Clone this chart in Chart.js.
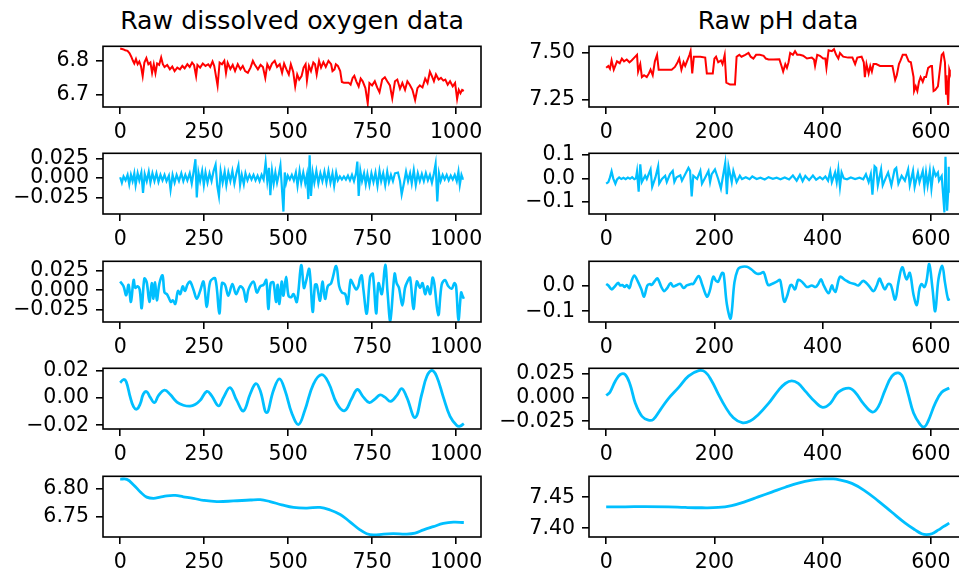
<!DOCTYPE html>
<html>
<head>
<meta charset="utf-8">
<script src="https://cdn.jsdelivr.net/npm/chart.js@4.4.1/dist/chart.umd.min.js"></script>
<style>
  html, body { margin: 0; padding: 0; background: #fff; overflow: hidden; }
  body { width: 959px; height: 574px; position: relative; }
  .panel { position: absolute; }
  .title { position: absolute; top: 9px; font-family: 'DejaVu Sans', sans-serif; font-size: 25.2px; line-height: 24.6px; color: #000; transform: translateX(-50%); white-space: nowrap; }
</style>
</head>
<body>
<div class="title" style="left:292px">Raw dissolved oxygen data</div>
<div class="title" style="left:778px">Raw pH data</div>

<script>
// --- Data: dissolved oxygen (left column) ---
const doRawX = [0,8,15,22,28,33,38,42,47,52,57,62,67,72,78,84,90,95,100,105,110,116,122,127,132,140,148,155,162,170,178,185,192,200,207,214,220,226,230,238,246,254,262,268,275,280,290,296,303,310,315,320,328,335,342,350,358,365,372,380,388,395,400,410,418,425,432,438,445,452,460,467,475,482,488,495,502,508,515,521,527,533,540,546,552,556,562,568,575,580,585,592,598,605,612,620,628,632,638,642,648,655,660,666,674,680,686,692,697,703,710,716,722,730,737,742,750,758,765,772,780,788,795,803,810,818,825,833,840,848,855,862,870,878,885,892,900,908,915,922,928,934,940,948,955,962,968,975,982,990,997,1003,1008,1013,1018,1023];
const doRawY = [6.836,6.834,6.831,6.829,6.822,6.812,6.800,6.792,6.805,6.790,6.798,6.784,6.755,6.795,6.808,6.790,6.795,6.765,6.790,6.764,6.792,6.788,6.810,6.790,6.782,6.788,6.775,6.783,6.770,6.780,6.775,6.785,6.778,6.790,6.782,6.795,6.787,6.755,6.788,6.780,6.792,6.785,6.790,6.782,6.798,6.785,6.727,6.795,6.790,6.800,6.764,6.794,6.776,6.788,6.770,6.790,6.775,6.785,6.770,6.765,6.780,6.800,6.790,6.775,6.788,6.782,6.750,6.790,6.776,6.792,6.800,6.782,6.790,6.765,6.792,6.775,6.760,6.790,6.768,6.725,6.760,6.745,6.755,6.780,6.790,6.742,6.785,6.770,6.795,6.790,6.760,6.800,6.780,6.796,6.782,6.800,6.790,6.770,6.775,6.790,6.785,6.770,6.738,6.736,6.736,6.736,6.730,6.750,6.756,6.740,6.725,6.748,6.740,6.720,6.675,6.735,6.728,6.740,6.722,6.708,6.745,6.752,6.740,6.728,6.690,6.740,6.745,6.718,6.735,6.715,6.740,6.730,6.715,6.685,6.720,6.728,6.722,6.748,6.735,6.768,6.755,6.740,6.760,6.745,6.750,6.742,6.745,6.730,6.740,6.725,6.735,6.688,6.715,6.705,6.715,6.712];

const doHfX = [0,5,10,16,22,27,32,37,42,46,52,57,63,68,73,79,85,90,96,102,108,114,120,126,132,138,145,150,156,162,168,175,182,188,194,200,207,213,219,224,228,233,238,244,249,254,260,266,272,278,284,289,294,299,305,311,316,322,328,334,340,346,352,357,362,368,373,379,385,391,397,403,409,415,421,427,433,438,443,447,452,457,462,467,472,477,481,486,490,494,499,505,511,517,523,528,534,539,545,551,556,560,564,568,573,578,584,590,596,602,608,614,620,626,632,637,643,648,654,660,666,672,678,684,690,696,702,706,710,715,720,726,731,736,742,748,754,760,766,772,777,783,789,795,800,806,812,818,827,833,838,845,851,857,863,868,874,880,886,892,898,904,910,916,922,928,934,939,944,949,954,960,966,972,978,984,990,996,1002,1007,1011,1016,1020,1023];
const doHfY = [0.001,-0.006,0.002,-0.003,0.004,-0.008,0.004,-0.004,0.006,-0.009,0.006,-0.003,0.007,-0.019,0.005,-0.004,0.008,-0.006,0.006,-0.004,0.006,-0.005,0.004,-0.003,0.004,-0.004,0.003,-0.015,0.004,-0.006,0.004,-0.004,0.006,-0.004,0.004,-0.003,0.006,-0.007,0.009,0.024,-0.025,0.007,-0.004,0.009,-0.009,0.007,-0.006,0.006,-0.004,0.009,0.017,-0.010,-0.023,0.009,-0.006,0.008,-0.009,0.007,-0.004,0.009,-0.007,0.006,0.016,-0.009,0.004,-0.008,0.006,-0.003,0.004,-0.002,0.004,-0.003,0.003,-0.004,0.004,-0.002,0.020,-0.004,0.013,-0.022,0.009,-0.007,0.007,-0.006,0.004,0.016,-0.010,-0.043,0.007,-0.006,0.003,-0.002,0.004,-0.003,0.007,-0.010,0.009,-0.006,0.007,-0.007,0.004,-0.027,0.029,-0.023,0.007,-0.006,0.009,-0.007,0.006,-0.004,0.008,-0.006,0.009,-0.006,0.006,-0.010,0.007,-0.003,0.002,-0.002,0.002,-0.002,0.003,-0.003,0.004,-0.004,0.006,0.021,-0.023,0.009,-0.004,0.006,-0.008,0.005,-0.009,0.006,-0.005,0.007,-0.010,0.009,-0.004,0.006,-0.009,0.008,-0.005,0.004,-0.004,0.006,0.007,-0.004,-0.021,-0.006,0.008,-0.004,0.006,-0.007,0.010,-0.009,0.006,-0.004,0.005,-0.004,0.006,-0.003,0.004,-0.006,0.006,0.018,-0.030,0.006,-0.004,0.004,-0.002,0.004,-0.003,0.003,-0.002,0.004,-0.004,0.008,-0.009,0.004,-0.001,-0.001];

const doMfX = [0,10,18,25,32,40,45,52,58,64,72,79,87,94,99,104,109,117,126,132,139,144,151,157,164,172,179,186,193,200,208,218,228,238,248,258,268,283,295,303,312,322,334,345,357,367,375,382,397,407,417,427,435,441,448,456,464,469,474,481,486,494,501,509,516,526,539,547,553,563,573,580,585,595,602,610,618,628,643,652,660,670,677,686,692,702,709,714,719,724,734,744,752,762,769,779,789,796,804,817,823,830,840,848,855,863,873,883,893,900,908,915,923,930,935,947,957,967,977,987,995,1000,1007,1015,1019,1023];
const doMfY = [0.011,0.005,-0.0065,0.007,-0.015,0.013,0.003,0.005,0.001,-0.023,0.015,0.010,-0.015,0.009,-0.011,0.010,-0.013,0.009,0.019,-0.003,-0.005,-0.009,-0.015,-0.013,-0.0175,-0.001,-0.005,0.005,-0.001,0.007,0.011,0.001,-0.011,-0.001,0.011,-0.0215,0.011,0.015,-0.0297,0.009,0.007,-0.007,0.008,-0.005,0.005,0.001,-0.0147,0.001,0.011,-0.003,0.005,0.007,0.013,-0.024,0.009,0.010,-0.015,0.007,-0.0175,0.011,-0.007,0.017,-0.007,-0.009,-0.005,-0.015,0.032,0.003,0.011,0.027,-0.0276,0.007,0.007,-0.0135,0.011,-0.011,0.005,0.009,0.031,0.005,-0.003,-0.005,-0.0175,0.013,0.009,0.001,0.005,0.015,0.019,0.001,-0.030,0.017,0.021,-0.0297,0.009,-0.005,0.0325,-0.003,-0.039,0.021,0.009,0.003,-0.0195,0.003,0.011,0.016,-0.024,0.011,0.003,0.009,-0.005,0.005,-0.005,0.016,0.009,-0.032,0.007,0.013,0.005,0.002,0.009,0.005,-0.038,-0.003,-0.007,-0.011];

const doLfX = [0,10,18,30,40,50,60,69,79,89,102,114,132,149,169,188,208,223,238,258,272,293,308,327,347,367,387,404,417,436,456,474,491,511,531,550,575,600,620,645,668,689,706,724,742,759,774,788,805,823,838,853,878,898,913,928,942,962,982,1002,1012,1023];
const doLfY = [0.0111,0.0134,0.0118,0.0005,-0.0066,-0.0082,-0.0042,0.0028,0.0045,0.0005,-0.0035,0.0016,0.0056,0.0024,-0.0031,-0.0054,-0.0061,-0.0049,-0.0019,0.0047,0.0016,-0.0059,0.0005,0.0075,-0.0019,-0.0096,0.0028,0.0104,0.0052,-0.0108,0.0052,0.0139,0.0052,-0.0113,-0.0195,-0.0089,0.0099,0.0169,0.0111,-0.0042,-0.0094,-0.0007,0.0061,0.0005,-0.0035,-0.0007,0.0021,0.0005,-0.0026,0.0016,0.0068,0.0005,-0.0144,0.0028,0.0158,0.0200,0.0158,0.0005,-0.0136,-0.0202,-0.0207,-0.0188];

const doTrendX = [0,20,40,60,79,99,119,139,164,188,218,248,288,337,387,417,446,481,516,556,595,625,655,684,714,734,754,784,813,853,878,903,932,962,992,1023];
const doTrendY = [6.8170,6.8165,6.8068,6.7943,6.7852,6.7830,6.7852,6.7875,6.7881,6.7858,6.7830,6.7795,6.7773,6.7784,6.7801,6.7807,6.7773,6.7716,6.7670,6.7659,6.7670,6.7625,6.7545,6.7415,6.7273,6.7205,6.7182,6.7199,6.7205,6.7199,6.7216,6.7273,6.7330,6.7386,6.7409,6.7403];

// --- Data: pH (right column) ---
const phRawX = [0,4,7,10,14,20,25,29,33,38,43,47,52,57,59,63,66,70,75,79,82,86,90,94,97,103,112,121,127,132,135,139,143,146,150,154,156,159,162,174,183,186,192,197,200,203,207,212,215,219,222,229,238,241,246,250,257,263,267,272,277,284,291,295,300,309,320,324,327,331,334,337,340,345,349,353,358,364,371,380,384,386,390,395,401,405,407,411,417,421,425,429,432,438,447,455,460,464,472,476,478,481,485,488,491,494,499,506,524,529,534,537,541,544,548,554,559,563,568,569,572,575,578,581,585,588,591,595,600,602,605,608,613,617,620,623,626,628,629,632,634,635];
const phRawY = [7.42,7.43,7.415,7.46,7.41,7.455,7.445,7.47,7.455,7.465,7.45,7.46,7.475,7.49,7.40,7.44,7.37,7.38,7.37,7.39,7.41,7.38,7.455,7.49,7.41,7.41,7.41,7.41,7.425,7.45,7.47,7.41,7.45,7.43,7.46,7.49,7.51,7.39,7.48,7.48,7.475,7.39,7.39,7.39,7.47,7.48,7.45,7.46,7.44,7.49,7.34,7.33,7.33,7.48,7.49,7.48,7.49,7.50,7.48,7.47,7.49,7.49,7.485,7.47,7.465,7.465,7.466,7.43,7.40,7.44,7.42,7.45,7.50,7.49,7.51,7.49,7.49,7.485,7.47,7.475,7.465,7.43,7.49,7.485,7.47,7.47,7.42,7.515,7.51,7.52,7.49,7.47,7.50,7.48,7.475,7.475,7.44,7.475,7.48,7.45,7.37,7.44,7.39,7.43,7.40,7.44,7.44,7.43,7.43,7.43,7.355,7.38,7.44,7.46,7.49,7.49,7.455,7.45,7.37,7.295,7.32,7.295,7.345,7.37,7.345,7.37,7.37,7.42,7.43,7.43,7.295,7.30,7.32,7.42,7.49,7.50,7.45,7.28,7.38,7.22,7.41,7.40];

const phHfX = [0,4,7,10,13,17,20,24,28,32,36,40,44,48,52,55,57,60,63,66,72,75,82,85,91,96,98,103,109,112,118,123,126,130,137,140,146,152,155,158,161,168,174,177,183,189,192,195,201,207,212,220,223,226,232,235,241,247,251,258,265,270,278,285,293,300,308,315,322,330,338,345,352,358,363,368,375,382,388,395,400,405,410,414,417,423,426,429,432,435,439,445,452,460,468,475,480,485,489,492,496,499,502,508,511,517,521,527,533,536,540,546,552,558,561,567,570,576,579,585,588,591,594,598,601,605,609,613,615,620,625,627,630,632,633,635];
const phHfY = [-0.023,-0.016,0.004,0.030,0.000,-0.023,-0.005,0.004,-0.003,0.002,-0.004,0.003,-0.002,0.005,-0.004,0.000,0.030,-0.058,0.060,-0.016,0.011,-0.003,0.038,-0.037,0.004,0.052,-0.023,-0.003,0.011,-0.016,0.018,0.032,-0.016,0.004,0.013,-0.010,0.018,0.045,0.032,-0.078,0.011,-0.003,0.032,-0.023,0.004,0.032,-0.016,0.018,0.038,-0.003,-0.044,0.066,-0.068,0.052,-0.016,0.032,-0.016,0.011,-0.003,0.005,-0.004,0.008,-0.003,0.003,-0.005,0.005,-0.002,0.003,-0.004,0.004,-0.005,0.012,-0.010,0.015,-0.012,0.010,-0.008,0.012,-0.006,0.005,-0.004,0.008,-0.010,0.030,-0.016,0.025,-0.016,0.038,-0.037,0.025,0.000,-0.004,0.004,-0.003,0.003,-0.004,0.018,-0.016,0.018,-0.071,0.052,0.045,-0.030,0.038,-0.030,0.004,0.025,-0.030,0.038,0.045,-0.023,0.011,-0.010,0.038,-0.030,0.032,-0.037,0.025,-0.016,0.032,-0.037,0.025,-0.030,0.032,-0.044,0.038,0.011,0.025,-0.010,0.010,-0.147,0.093,-0.140,-0.058,0.045,0.045];

const phMfX = [0,4,10,15,22,26,30,34,38,43,47,52,58,65,70,76,81,84,90,95,102,107,112,119,124,131,137,143,149,157,161,171,177,186,191,198,203,207,214,217,223,230,237,243,248,260,269,278,284,291,299,306,315,321,324,329,334,340,343,349,355,363,371,380,387,392,397,402,411,417,420,424,432,441,451,459,466,475,485,494,500,505,509,515,521,526,534,540,547,555,561,568,574,579,583,588,592,597,603,608,614,621,626,632,635];
const phMfY = [0.006,0.000,-0.015,-0.006,0.010,0.000,0.002,-0.006,0.002,-0.010,0.018,0.039,0.018,-0.015,-0.043,0.000,0.006,0.002,0.018,0.027,-0.006,-0.022,-0.012,0.009,-0.004,0.002,0.006,-0.010,0.000,0.006,0.006,0.037,0.006,-0.043,-0.024,0.034,0.018,0.015,0.049,0.046,-0.073,-0.128,0.012,0.061,0.071,0.073,0.061,0.046,0.046,0.051,0.002,0.006,0.015,0.022,-0.006,-0.063,-0.043,0.000,0.002,-0.015,0.022,0.012,-0.006,0.000,-0.006,0.006,0.024,0.000,-0.030,0.000,-0.015,-0.024,0.034,0.022,0.010,0.006,0.000,0.018,0.000,-0.022,0.000,0.027,0.010,-0.015,0.006,0.002,-0.055,0.012,0.071,0.024,0.049,-0.037,-0.076,-0.012,0.006,-0.006,0.018,0.083,-0.012,-0.100,0.024,0.076,0.012,-0.055,-0.052];

const phLfX = [0,7,17,26,35,44,54,66,78,87,100,115,134,152,171,183,195,207,220,235,251,266,281,300,318,331,343,355,367,386,400,414,429,448,460,475,492,503,515,528,540,549,558,568,580,588,595,608,620,634];
const phLfY = [0.0024,0.0058,0.0177,0.0245,0.0245,0.0143,-0.0061,-0.0197,-0.0238,-0.0231,-0.0129,-0.0010,0.0109,0.0228,0.0286,0.0272,0.0177,0.0041,-0.0095,-0.0214,-0.0265,-0.0248,-0.0180,-0.0061,0.0075,0.0150,0.0177,0.0150,0.0075,-0.0044,-0.0102,-0.0061,0.0058,0.0102,0.0058,-0.0061,-0.0153,-0.0095,0.0075,0.0228,0.0262,0.0211,0.0041,-0.0163,-0.0282,-0.0310,-0.0248,-0.0061,0.0058,0.0102];

const phTrendX = [0,35,72,115,146,177,207,232,257,281,306,331,355,380,404,417,429,454,478,503,528,552,571,583,592,602,614,623,634];
const phTrendY = [7.4345,7.4345,7.4350,7.4345,7.4335,7.4330,7.4335,7.4366,7.4428,7.4505,7.4582,7.4660,7.4727,7.4773,7.4794,7.4794,7.4784,7.4722,7.4603,7.4438,7.4258,7.4088,7.3974,7.3912,7.3897,7.3912,7.3974,7.4026,7.4083];

// --- Tick values and labels ---
const doXTicks = [0, 250, 500, 750, 1000];
const phXTicks = [0, 200, 400, 600];
const yTicks = [
  { v: [6.8, 6.7], l: ['6.8', '6.7'] },
  { v: [7.5, 7.25], l: ['7.50', '7.25'] },
  { v: [0.025, 0, -0.025], l: ['0.025', '0.000', '\u22120.025'] },
  { v: [0.1, 0, -0.1], l: ['0.1', '0.0', '\u22120.1'] },
  { v: [0.025, 0, -0.025], l: ['0.025', '0.000', '\u22120.025'] },
  { v: [0, -0.1], l: ['0.0', '\u22120.1'] },
  { v: [0.02, 0, -0.02], l: ['0.02', '0.00', '\u22120.02'] },
  { v: [0.025, 0, -0.025], l: ['0.025', '0.000', '\u22120.025'] },
  { v: [6.8, 6.75], l: ['6.80', '6.75'] },
  { v: [7.45, 7.4], l: ['7.45', '7.40'] }
];
const yRanges = [
  [6.6647, 6.8425], [7.209, 7.536],
  [-0.0461, 0.0316], [-0.154, 0.108],
  [-0.0407, 0.037], [-0.142, 0.094],
  [-0.0228, 0.0216], [-0.0332, 0.0311],
  [6.7147, 6.822], [7.386, 7.4836]
];

// --- Layout ---
const RED = '#ff0000';
const BLUE = '#00bfff';
const FONT = { family: "'DejaVu Sans', sans-serif", size: 20.5 };
const rowTops = [43, 150, 258, 365, 473];
const BOX_H = 64, PAD_TOP = 16, X_H = 34;

const frame = {
  id: 'frame',
  afterDatasetsDraw(chart) {
    const { ctx, chartArea: a } = chart;
    ctx.save();
    ctx.strokeStyle = '#000';
    ctx.lineWidth = 1.6;
    ctx.strokeRect(a.left, a.top, a.right - a.left, a.bottom - a.top);
    ctx.restore();
  }
};

function makePanel(idx, col, xs, ys, color, tension, lw) {
  const row = Math.floor(idx / 2);
  const left = col === 0 ? 0 : 489;
  const yW = col === 0 ? 103 : 100;
  const padRight = col === 0 ? 14 : 20;
  const width = yW + 378 + padRight;
  const height = PAD_TOP + BOX_H + X_H;

  const div = document.createElement('div');
  div.className = 'panel';
  div.style.left = left + 'px';
  div.style.top = (rowTops[row] - PAD_TOP) + 'px';
  const canvas = document.createElement('canvas');
  canvas.width = width;
  canvas.height = height;
  canvas.style.width = width + 'px';
  canvas.style.height = height + 'px';
  div.appendChild(canvas);
  document.body.appendChild(div);

  const xTicks = col === 0 ? doXTicks : phXTicks;
  const xMax = col === 0 ? 1023 : 635;
  const yt = yTicks[idx];
  const points = xs.map((x, i) => ({ x: x, y: ys[i] }));

  new Chart(canvas.getContext('2d'), {
    type: 'line',
    data: {
      datasets: [{
        data: points,
        borderColor: color,
        borderWidth: lw,
        pointRadius: 0,
        tension: tension,
        fill: false
      }]
    },
    options: {
      responsive: false,
      animation: false,
      events: [],
      layout: { padding: { top: PAD_TOP, right: padRight, left: 0, bottom: 0 } },
      plugins: { legend: { display: false }, tooltip: { enabled: false } },
      scales: {
        x: {
          type: 'linear',
          min: -0.05 * xMax,
          max: 1.05 * xMax,
          afterBuildTicks: a => { a.ticks = xTicks.map(v => ({ value: v })); },
          afterFit: s => { s.height = X_H; },
          border: { display: false },
          grid: { display: true, drawOnChartArea: false, drawTicks: true, tickLength: 7, color: '#000', lineWidth: 1.6 },
          ticks: { color: '#000', font: FONT, padding: 6, maxRotation: 0, autoSkip: false, callback: v => String(v) }
        },
        y: {
          min: yRanges[idx][0],
          max: yRanges[idx][1],
          afterBuildTicks: a => { a.ticks = yt.v.map(v => ({ value: v })); },
          afterFit: s => { s.width = yW; },
          border: { display: false },
          grid: { display: true, drawOnChartArea: false, drawTicks: true, tickLength: 7, color: '#000', lineWidth: 1.6 },
          ticks: { color: '#000', font: FONT, padding: 7, autoSkip: false, callback: (v, i) => yt.l[i] }
        }
      }
    },
    plugins: [frame]
  });
}

makePanel(0, 0, doRawX, doRawY, RED, 0, 2.0);
makePanel(1, 1, phRawX, phRawY, RED, 0, 2.0);
makePanel(2, 0, doHfX, doHfY, BLUE, 0, 2.2);
makePanel(3, 1, phHfX, phHfY, BLUE, 0, 2.2);
makePanel(4, 0, doMfX, doMfY, BLUE, 0.35, 2.6);
makePanel(5, 1, phMfX, phMfY, BLUE, 0.35, 2.6);
makePanel(6, 0, doLfX, doLfY, BLUE, 0.4, 2.8);
makePanel(7, 1, phLfX, phLfY, BLUE, 0.4, 2.8);
makePanel(8, 0, doTrendX, doTrendY, BLUE, 0.4, 2.8);
makePanel(9, 1, phTrendX, phTrendY, BLUE, 0.4, 2.8);
</script>
</body>
</html>
